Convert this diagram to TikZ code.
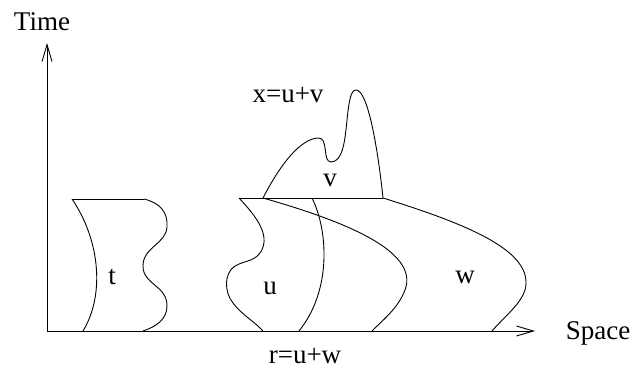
\documentclass[tikz,border=0pt]{standalone}
\usepackage{fontspec}
\setmainfont{Liberation Serif}
\usetikzlibrary{arrows.meta}
\begin{document}
\begin{tikzpicture}[x=1pt,y=-1pt,
  line/.style={line width=0.9pt},
  axis/.style={line width=0.9pt,-{Straight Barb[length=17pt,width=10pt,line width=0.9pt]}},
  lbl/.style={inner sep=0pt,font=\fontsize{27}{29}\selectfont}]
\useasboundingbox (0,0) rectangle (636,377);
% axes
\coordinate (O) at (47,331);
\coordinate (T) at (47,43);
\coordinate (S) at (535,331);
\draw[axis] (O) -- (T);
\draw[axis] (O) -- (S);
\node[lbl] (time) at (42,22) {Time};
\node[lbl] (space) at (598,333) {Space};
\node[lbl] (r) at (305,356) {r=u+w};
\node[lbl] (x) at (288,95) {x=u+v};
% region t
\coordinate (t1) at (72,199);
\coordinate (t2) at (144,199);
\coordinate (t3) at (83,331);
\coordinate (t4) at (143,331);
\draw[line] (t1) -- (t2);
\draw[line] (t1) .. controls (100,240) and (105,295) .. (t3);
\draw[line] (t2) .. controls (160,203) and (168,212) .. (167,227)
  .. controls (166,244) and (143,247) .. (143,266)
  .. controls (143,285) and (167,285) .. (167,306)
  .. controls (167,320) and (155,327) .. (t4);
\node[lbl] (tl) at (112,277) {t};
% region u, v, w
\coordinate (u1) at (239,198);
\coordinate (v1) at (263,198);
\coordinate (m1) at (312,198);
\coordinate (v2) at (383,198);
\coordinate (u2) at (263,331);
\coordinate (m2) at (299,331);
\coordinate (w1) at (372,331);
\coordinate (w2) at (492,331);
\draw[line] (u1) -- (v2);
\draw[line] (u1) .. controls (255,215) and (268,232) .. (263,247)
  .. controls (258,262) and (245,260) .. (235,266)
  .. controls (224,273) and (224,292) .. (233,303)
  .. controls (242,315) and (255,322) .. (u2);
\draw[line] (m1) .. controls (328,230) and (332,290) .. (m2);
\draw[line] (v1) .. controls (340,220) and (420,250) .. (405,290)
  .. controls (398,308) and (385,318) .. (w1);
\draw[line] (v2) .. controls (470,225) and (535,252) .. (525,290)
  .. controls (520,305) and (505,316) .. (w2);
\draw[line] (v1) .. controls (280,165) and (300,139) .. (318,138)
  .. controls (329,137) and (322,162) .. (331,162)
  .. controls (343,162) and (345,140) .. (347,120)
  .. controls (349,100) and (351,90) .. (356,90)
  .. controls (368,90) and (378,150) .. (v2);
\node[lbl] (ul) at (270,288) {u};
\node[lbl] (vl) at (330,180) {v};
\node[lbl] (wl) at (465,277) {w};
\end{tikzpicture}
\end{document}
